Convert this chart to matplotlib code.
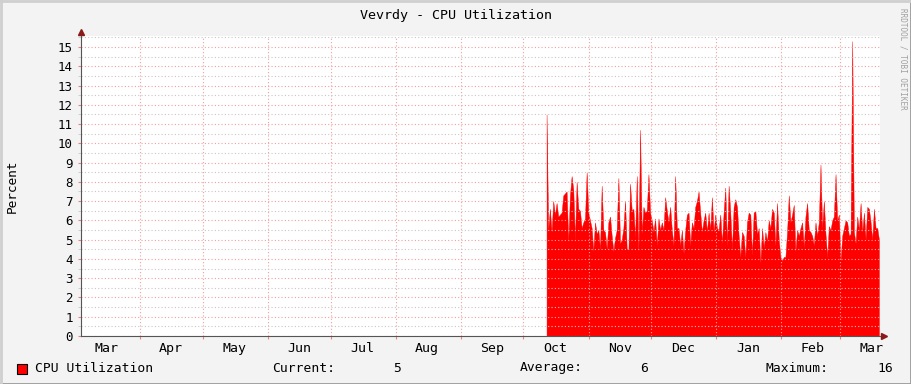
import matplotlib

matplotlib.use("Agg")
import matplotlib.pyplot as plt
import matplotlib.dates as mdates
import numpy as np
import pandas as pd
from matplotlib.patches import Rectangle
from matplotlib.lines import Line2D

# CPU utilisation samples (percent), Oct 12 2013 -> Mar 19 2014
cpu = [
    11.5, 5.5, 6.6, 5.4, 7.0, 6.3, 6.9, 6.2, 6.3, 6.4, 7.3, 7.4, 7.5, 4.9, 7.3, 8.3,
    7.6, 5.0, 8.0, 6.6, 6.5, 5.6, 5.9, 6.1, 8.5, 6.4, 6.0, 5.6, 4.4, 5.9, 5.3, 5.5,
    4.5, 7.8, 5.5, 5.4, 4.5, 5.9, 6.2, 5.2, 4.4, 5.1, 5.5, 8.2, 4.8, 5.0, 5.6, 7.0,
    4.5, 4.5, 7.9, 6.5, 6.6, 5.1, 8.3, 4.4, 10.7, 5.3, 6.7, 6.4, 6.5, 8.4, 6.4, 6.0,
    5.4, 6.1, 4.7, 6.1, 5.5, 5.9, 5.5, 7.2, 6.5, 5.9, 6.7, 5.5, 4.7, 8.3, 5.6, 5.6,
    4.7, 5.5, 4.3, 5.5, 6.3, 6.4, 4.7, 5.9, 5.6, 6.7, 7.0, 7.5, 6.4, 5.4, 6.0, 6.4,
    5.4, 6.4, 5.5, 7.2, 5.4, 6.3, 5.6, 5.5, 6.3, 4.8, 6.4, 7.7, 4.7, 7.8, 6.4, 4.5,
    6.7, 7.1, 6.7, 5.2, 4.1, 5.4, 5.2, 4.1, 5.9, 6.4, 6.3, 4.2, 6.4, 6.5, 5.3, 5.6,
    3.8, 5.6, 4.6, 5.4, 4.9, 6.0, 5.6, 6.6, 6.4, 4.7, 6.9, 5.0, 4.1, 3.9, 4.1, 4.1,
    5.4, 7.3, 5.9, 6.3, 6.8, 4.4, 5.5, 5.2, 5.6, 5.9, 4.6, 6.2, 6.9, 5.5, 5.4, 5.2,
    4.7, 5.9, 5.2, 5.9, 8.9, 5.6, 7.0, 5.3, 4.1, 5.7, 5.5, 6.0, 6.2, 8.4, 6.0, 6.3,
    3.9, 5.2, 5.6, 6.0, 5.9, 5.2, 5.3, 15.3, 5.4, 4.8, 6.2, 5.5, 6.9, 5.4, 6.4, 5.0,
    6.7, 6.6, 5.9, 5.0, 6.6, 5.6, 5.6, 5.0,
]
data_start = "2013-10-12"
data_end = "2014-03-19 12:00"
view_start = "2013-03-04"
view_end = "2014-03-20"
title = "Vevrdy - CPU Utilization"
legend_stats = [("Current:", "5"), ("Average:", "6"), ("Maximum:", "16")]

MONO = "DejaVu Sans Mono"
BG = "#F3F3F3"

times = pd.date_range(data_start, data_end, periods=len(cpu))

fig = plt.figure(figsize=(9.11, 3.84), dpi=100, facecolor=BG)
ax = fig.add_axes([81 / 911, 48 / 384, 799 / 911, 300 / 384])
ax.set_facecolor("white")

ax.fill_between(times, cpu, 0, color="#FF0000", linewidth=0.3, edgecolor="#FF0000", zorder=2)

ax.set_xlim(pd.Timestamp(view_start), pd.Timestamp(view_end))
ax.set_ylim(0, 15.57)

# grid: half steps in gray, integers in light red, months in red
ax.set_yticks(np.arange(0, 16, 1))
ax.set_yticks(np.arange(0.5, 15.6, 1), minor=True)
ax.xaxis.set_major_locator(mdates.MonthLocator(bymonthday=1))
ax.xaxis.set_minor_locator(mdates.MonthLocator(bymonthday=16))
ax.xaxis.set_major_formatter(plt.NullFormatter())
ax.xaxis.set_minor_formatter(mdates.DateFormatter("%b"))
ax.grid(True, which="major", axis="y", color="#F0A0A0", linestyle=(0, (1, 2)), linewidth=0.8, zorder=3)
ax.grid(True, which="minor", axis="y", color="#C8C8C8", linestyle=(0, (1, 2)), linewidth=0.8, zorder=3)
ax.grid(True, which="major", axis="x", color="#F0A0A0", linestyle=(0, (1, 2)), linewidth=0.8, zorder=3)
ax.set_axisbelow(False)

ax.tick_params(axis="y", which="major", length=2, color="#F08080", labelsize=9, pad=4)
ax.tick_params(axis="y", which="minor", length=2, color="#C8C8C8")
ax.tick_params(axis="x", which="major", length=2, color="#F08080")
ax.tick_params(axis="x", which="minor", length=0, labelsize=9.5, pad=4)
for lab in ax.get_yticklabels() + ax.get_xticklabels(minor=True):
    lab.set_family(MONO)

for side in ["top", "right"]:
    ax.spines[side].set_visible(False)
ax.spines["left"].set_color("#555555")
ax.spines["bottom"].set_color("#555555")
ax.spines["left"].set_zorder(5)
ax.spines["bottom"].set_zorder(5)

# axis arrows
ax.plot([0], [1.012], marker="^", color="#8B1A1A", markersize=4, transform=ax.transAxes, clip_on=False)
ax.plot([1.005], [0], marker=">", color="#8B1A1A", markersize=4, transform=ax.transAxes, clip_on=False)

fig.text(12 / 911, 1 - 186 / 384, "Percent", rotation=90, ha="center", va="center", family=MONO, fontsize=9.2)
fig.text(0.5, 1 - 15 / 384, title, ha="center", va="center", family=MONO, fontsize=9.6)
fig.text(903 / 911, 1 - 8 / 384, "RRDTOOL / TOBI OETIKER", rotation=-90, ha="center", va="top",
         family=MONO, fontsize=5.5, color="#A0A0A0")

# legend row
ly = 1 - 368 / 384
fig.patches.append(Rectangle((17 / 911, 1 - 374 / 384), 10 / 911, 10 / 384, transform=fig.transFigure,
                             facecolor="#FF0000", edgecolor="black", linewidth=0.8))
fig.text(35 / 911, ly, "CPU Utilization", va="center", family=MONO, fontsize=9.4)
label_x = [272, 520, 765]
value_x = [401, 648, 893]
for (lab, val), lx, vx in zip(legend_stats, label_x, value_x):
    fig.text(lx / 911, ly, lab, va="center", family=MONO, fontsize=9.4)
    fig.text(vx / 911, ly, val, va="center", ha="right", family=MONO, fontsize=9.4)

# canvas border
fig.lines.append(Line2D([0, 1], [0.5 / 384, 0.5 / 384], transform=fig.transFigure, color="#9A9A9A", linewidth=2))
fig.lines.append(Line2D([1 - 0.5 / 911, 1 - 0.5 / 911], [0, 1], transform=fig.transFigure, color="#9A9A9A", linewidth=2))
fig.lines.append(Line2D([0, 1], [1 - 0.5 / 384, 1 - 0.5 / 384], transform=fig.transFigure, color="#CFCFCF", linewidth=2))
fig.lines.append(Line2D([0.5 / 911, 0.5 / 911], [0, 1], transform=fig.transFigure, color="#CFCFCF", linewidth=2))

fig.savefig("out.png", dpi=100, facecolor=BG)
plt.close(fig)
